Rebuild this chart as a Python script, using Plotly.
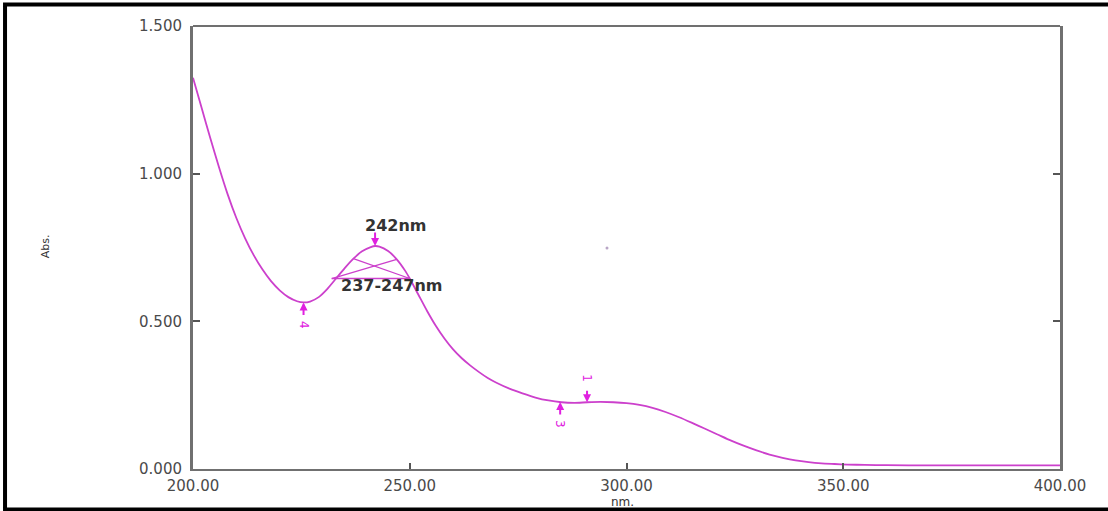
import numpy as np
import plotly.graph_objects as go

# ---- data ----
wavelength_nm = [200, 202, 204, 206, 208, 210, 212, 214, 216, 218, 220, 222, 224, 225.5,
                 227, 229, 231, 233, 235, 237, 239, 241, 242, 243, 245, 247, 249, 250,
                 252, 254, 256, 258, 260, 262, 264, 266, 268, 270, 273, 276, 279, 282,
                 285, 288, 291, 294, 297, 300, 303, 306, 309, 312, 315, 318, 321, 324,
                 327, 330, 333, 336, 339, 342, 345, 348, 351, 355, 360, 370, 380, 390, 400]
absorbance = [1.325, 1.222, 1.12, 1.022, 0.93, 0.85, 0.782, 0.724, 0.676, 0.636, 0.605,
              0.582, 0.568, 0.564,
              0.567, 0.582, 0.61, 0.645, 0.68, 0.712, 0.737, 0.751, 0.755, 0.753, 0.738,
              0.71, 0.67, 0.645,
              0.59, 0.535, 0.485, 0.442, 0.405, 0.375, 0.35, 0.328, 0.308, 0.292, 0.272,
              0.256, 0.242, 0.232,
              0.226, 0.224, 0.226, 0.227, 0.226, 0.223, 0.217, 0.207, 0.193, 0.176,
              0.157, 0.137, 0.117, 0.097,
              0.079, 0.063, 0.049, 0.038, 0.029, 0.023, 0.019, 0.017, 0.015, 0.014,
              0.013, 0.012, 0.012, 0.012, 0.012]

peak_nm = 242
peak_label = "242nm"
band_nm = [237, 247]
band_label = "237-247nm"
band_base_nm = [232, 250]

marker_ids = ["4", "3", "1"]
marker_nm = [225.5, 284.7, 290.9]
marker_side = ["below", "below", "above"]

stray_point = (295.5, 0.748)

x_ticks = [200, 250, 300, 350, 400]
x_tick_text = ["200.00", "250.00", "300.00", "350.00", "400.00"]
y_ticks = [0.0, 0.5, 1.0, 1.5]
y_tick_text = ["0.000", "0.500", "1.000", "1.500"]
x_title = "nm."
y_title = "Abs."

CURVE = "#cc40cc"
MARK = "#e020e0"
TXT = "#333333"
FRAME = "#707070"


def A(nm):
    return float(np.interp(nm, wavelength_nm, absorbance))


fig = go.Figure()
fig.add_trace(go.Scatter(x=wavelength_nm, y=absorbance, mode="lines",
                         line=dict(color=CURVE, width=1.8, shape="spline", smoothing=0.5),
                         hoverinfo="skip", showlegend=False))

# peak-range construction lines
base_y = A(band_base_nm[1])
seg_x = [band_base_nm[0], band_base_nm[1], None,
         band_base_nm[0], band_nm[1], None,
         band_nm[0], band_base_nm[1]]
seg_y = [base_y, base_y, None,
         base_y, A(band_nm[1]), None,
         A(band_nm[0]), base_y]
fig.add_trace(go.Scatter(x=seg_x, y=seg_y, mode="lines",
                         line=dict(color=CURVE, width=1.3),
                         hoverinfo="skip", showlegend=False))

fig.add_trace(go.Scatter(x=[stray_point[0]], y=[stray_point[1]], mode="markers",
                         marker=dict(size=3, color="#b9a6c6"),
                         hoverinfo="skip", showlegend=False))

annotations = []
# peak arrow + label
annotations.append(dict(x=peak_nm, y=A(peak_nm), xref="x", yref="y", text="",
                        showarrow=True, arrowhead=2, arrowsize=0.8, arrowwidth=2,
                        arrowcolor=MARK, ax=0, ay=-15))
label_font = dict(family="DejaVu Sans", size=16, color=TXT)
annotations.append(dict(x=246.7, y=0.826, xref="x", yref="y", text="<b>" + peak_label + "</b>",
                        showarrow=False, xanchor="center", yanchor="middle", font=label_font))
annotations.append(dict(x=245.8, y=0.623, xref="x", yref="y", text="<b>" + band_label + "</b>",
                        showarrow=False, xanchor="center", yanchor="middle", font=label_font))

# numbered markers
for mid, nm, side in zip(marker_ids, marker_nm, marker_side):
    yv = A(nm)
    if side == "below":
        annotations.append(dict(x=nm, y=yv, xref="x", yref="y", text="", showarrow=True,
                                arrowhead=2, arrowsize=0.8, arrowwidth=2, arrowcolor=MARK,
                                ax=0, ay=14))
        annotations.append(dict(x=nm, y=yv, xref="x", yref="y", text=mid, showarrow=False,
                                textangle=90, yshift=-22,
                                font=dict(family="DejaVu Sans", size=12, color=MARK)))
    else:
        annotations.append(dict(x=nm, y=yv, xref="x", yref="y", text="", showarrow=True,
                                arrowhead=2, arrowsize=0.8, arrowwidth=2, arrowcolor=MARK,
                                ax=0, ay=-13))
        annotations.append(dict(x=nm, y=yv, xref="x", yref="y", text=mid, showarrow=False,
                                textangle=90, yshift=24,
                                font=dict(family="DejaVu Sans", size=12, color=MARK)))

# axis titles
annotations.append(dict(x=-0.1707, y=0.503, xref="paper", yref="paper", text=y_title,
                        textangle=-90, showarrow=False, xanchor="center", yanchor="middle",
                        font=dict(family="DejaVu Sans", size=11, color=TXT)))
annotations.append(dict(x=0.495, y=-0.0745, xref="paper", yref="paper", text=x_title,
                        showarrow=False, xanchor="center", yanchor="middle",
                        font=dict(family="DejaVu Sans", size=12, color=TXT)))

shapes = [
    # top frame line
    dict(type="line", xref="paper", yref="paper", x0=0, x1=1, y0=1, y1=1,
         line=dict(color=FRAME, width=2)),
    # outer black border
    dict(type="rect", xref="paper", yref="paper", x0=-0.2168, x1=1.07, y0=-0.0914, y1=1.0485,
         line=dict(color="black", width=4)),
]

tick_font = dict(family="DejaVu Sans", size=15, color="#4a4a4a")

fig.update_layout(
    width=1108, height=511,
    margin=dict(l=193, r=48, t=26, b=42),
    paper_bgcolor="white", plot_bgcolor="white",
    showlegend=False,
    annotations=annotations,
    shapes=shapes,
    xaxis=dict(range=[200, 400], tickvals=x_ticks, ticktext=x_tick_text,
               ticks="inside", ticklen=6, tickwidth=1.5, tickcolor="#555",
               showline=True, linecolor=FRAME, linewidth=2, mirror=False,
               showgrid=False, zeroline=False, tickfont=tick_font,
               ticklabelstandoff=2),
    yaxis=dict(range=[0, 1.5], tickvals=y_ticks, ticktext=y_tick_text,
               ticks="inside", ticklen=7, tickwidth=1.5, tickcolor="#555",
               showline=True, linecolor=FRAME, linewidth=3, mirror="ticks",
               showgrid=False, zeroline=False, tickfont=tick_font,
               ticklabelstandoff=5),
)

fig.write_html("out.html", config={"displayModeBar": False},
               post_script="document.body.style.margin='0';")
